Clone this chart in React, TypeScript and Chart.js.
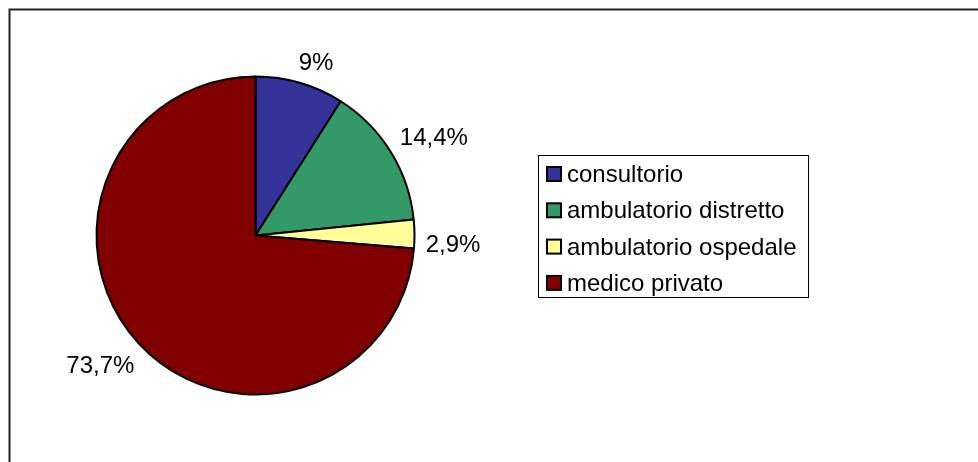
import React, { useEffect, useRef } from "react";
import { Chart, registerables } from "chart.js";

Chart.register(...registerables);

const categories = ["consultorio", "ambulatorio distretto", "ambulatorio ospedale", "medico privato"];
const percentages = [9, 14.4, 2.9, 73.7];
const colors = ["#333399", "#339966", "#FFFF99", "#800000"];

const FONT = "24px 'Liberation Sans', Arial, sans-serif";

const formatPct = (v: number) => String(v).replace(".", ",") + "%";

const decorPlugin = {
  id: "decor",
  afterDraw(chart: any) {
    const ctx = chart.ctx as CanvasRenderingContext2D;
    ctx.save();

    // outer frame (top + left edges visible)
    ctx.strokeStyle = "#222222";
    ctx.lineWidth = 2;
    ctx.beginPath();
    ctx.moveTo(9.5, 462);
    ctx.lineTo(9.5, 9.5);
    ctx.lineTo(978, 9.5);
    ctx.stroke();

    // data labels
    const meta = chart.getDatasetMeta(0);
    ctx.font = FONT;
    ctx.fillStyle = "#000000";
    ctx.textAlign = "left";
    ctx.textBaseline = "alphabetic";
    const capH = 17;
    meta.data.forEach((arc: any, i: number) => {
      const p = arc.getProps(["x", "y", "startAngle", "endAngle", "outerRadius"], true);
      const mid = (p.startAngle + p.endAngle) / 2;
      const dx = Math.cos(mid);
      const dy = Math.sin(mid);
      const txt = formatPct(percentages[i]);
      const m = ctx.measureText(txt);
      const inkL = m.actualBoundingBoxLeft;
      const inkW = m.actualBoundingBoxLeft + m.actualBoundingBoxRight;
      const he = Math.abs((inkW / 2) * dx) + Math.abs((capH / 2) * dy);
      const proj = p.outerRadius + 12 + he;
      const cx = p.x + proj * dx + 10 * -dy;
      const cy = p.y + proj * dy + 10 * dx;
      ctx.fillText(txt, cx - inkW / 2 + inkL, cy + capH / 2);
    });

    // legend
    const box = { l: 538.5, t: 155.5, r: 808.5, b: 297.5 };
    ctx.strokeStyle = "#000000";
    ctx.lineWidth = 1;
    ctx.strokeRect(box.l, box.t, box.r - box.l, box.b - box.t);
    const rowStart = 174;
    const rowStep = 36.3;
    categories.forEach((c, i) => {
      const yc = rowStart + i * rowStep;
      ctx.fillStyle = colors[i];
      ctx.fillRect(547, yc - 7, 14, 14);
      ctx.strokeStyle = "#000000";
      ctx.lineWidth = 2;
      ctx.strokeRect(547, yc - 7, 14, 14);
      ctx.fillStyle = "#000000";
      ctx.font = FONT;
      ctx.fillText(c, 567, yc + 8);
    });

    ctx.restore();
  },
};

export default function App() {
  const ref = useRef<HTMLCanvasElement | null>(null);
  useEffect(() => {
    if (!ref.current) return;
    const chart = new Chart(ref.current, {
      type: "pie",
      data: {
        labels: categories,
        datasets: [
          {
            data: percentages,
            backgroundColor: colors,
            borderColor: "#000000",
            borderWidth: 2,
          },
        ],
      },
      options: {
        responsive: false,
        devicePixelRatio: 1,
        animation: false,
        radius: 159,
        layout: { padding: { left: 96, top: 76, right: 563, bottom: 67 } },
        plugins: {
          legend: { display: false },
          tooltip: { enabled: false },
        },
      } as any,
      plugins: [decorPlugin],
    });
    return () => chart.destroy();
  }, []);
  return (
    <div style={{ position: "absolute", left: 0, top: 0, width: 978, height: 462, background: "#ffffff" }}>
      <canvas ref={ref} width={978} height={462} style={{ display: "block" }} />
    </div>
  );
}
